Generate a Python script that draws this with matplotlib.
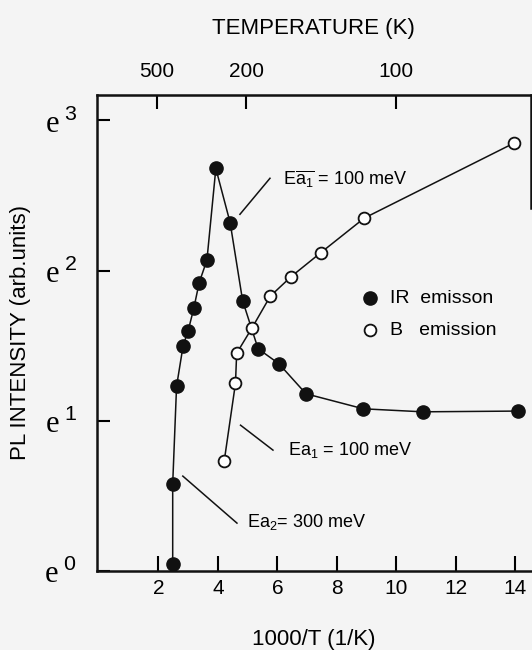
import numpy as np
import matplotlib.pyplot as plt

plt.rcParams['font.family'] = ['Liberation Sans', 'DejaVu Sans']
plt.rcParams['mathtext.fontset'] = 'custom'
plt.rcParams['mathtext.rm'] = 'Liberation Sans'
plt.rcParams['mathtext.it'] = 'Liberation Sans'

# IR emission (filled), x = 1000/T, y = ln(PL intensity)
ir_x = [2.48, 2.48, 2.61, 2.83, 3.00, 3.19, 3.37, 3.63, 3.93, 4.41, 4.83,
        5.35, 6.05, 6.96, 8.89, 10.88, 14.10]
ir_y = [0.05, 0.58, 1.23, 1.50, 1.60, 1.75, 1.92, 2.07, 2.68, 2.32, 1.80,
        1.48, 1.38, 1.18, 1.08, 1.06, 1.065]

# B emission (open)
b_x = [4.21, 4.59, 4.63, 5.15, 5.76, 6.46, 7.46, 8.92, 13.96]
b_y = [0.73, 1.25, 1.45, 1.62, 1.83, 1.96, 2.12, 2.35, 2.85]

xticks = [2, 4, 6, 8, 10, 12, 14]
yticks = [0, 1, 2, 3]
temp_ticks = [500, 200, 100]

bg = '#f4f4f4'
fig = plt.figure(figsize=(5.32, 6.5), dpi=100, facecolor=bg)
ax = fig.add_axes([0.182, 0.1215, 0.816, 0.7325], facecolor=bg)

ax.plot(ir_x, ir_y, '-', color='#111111', lw=1.1, zorder=2)
ax.plot(ir_x, ir_y, 'o', color='#111111', ms=9.5, zorder=3)
ax.plot(b_x, b_y, '-', color='#111111', lw=1.1, zorder=2)
ax.plot(b_x, b_y, 'o', mfc='white', mec='#111111', mew=1.3, ms=8.5, zorder=3)

ax.set_xlim(-0.07, 14.52)
ax.set_ylim(0, 3.17)

ax.set_xticks(xticks)
ax.set_xticklabels([str(v) for v in xticks], fontsize=15)
ax.set_yticks(yticks)
ax.set_yticklabels([r'$\mathregular{e}^{\ %d}$' % v for v in yticks])
for lab in ax.get_yticklabels():
    lab.set_fontfamily(['Liberation Serif', 'DejaVu Serif'])
    lab.set_fontsize(22)
ax.tick_params(axis='x', direction='in', length=11, width=1.5, pad=6)
ax.tick_params(axis='y', direction='in', length=9, width=1.5, pad=14)

for s in ax.spines.values():
    s.set_linewidth(1.8)
    s.set_color('#111111')
ax.spines['right'].set_bounds(2.42, 3.17)

top = ax.secondary_xaxis('top', functions=(lambda x: 1000.0 / np.maximum(x, 1e-3),
                                            lambda t: 1000.0 / np.maximum(t, 1e-3)))
top.set_xticks(temp_ticks)
top.set_xticklabels([str(v) for v in temp_ticks], fontsize=15)
top.tick_params(direction='in', length=10, width=1.5, pad=10)
top.set_xlabel('TEMPERATURE (K)', fontsize=16, labelpad=20)

ax.set_xlabel('1000/T (1/K)', fontsize=16, labelpad=22)
ax.set_ylabel('PL INTENSITY (arb.units)', fontsize=16, labelpad=10)

# annotations
ax.plot([5.75, 4.74], [2.615, 2.375], color='#111111', lw=1.1)
ax.text(6.18, 2.615, r'E$\overline{\mathregular{a}_1}$ = 100 meV', fontsize=13, va='center')
ax.plot([4.76, 5.85], [0.971, 0.805], color='#111111', lw=1.1)
ax.text(6.35, 0.805, r'Ea$_1$ = 100 meV', fontsize=13, va='center')
ax.plot([2.82, 4.64], [0.632, 0.319], color='#111111', lw=1.1)
ax.text(4.97, 0.326, r'Ea$_2$= 300 meV', fontsize=13, va='center')

# legend
ax.plot([9.11], [1.816], 'o', color='#111111', ms=9.5)
ax.text(9.78, 1.816, 'IR  emisson', fontsize=14, va='center')
ax.plot([9.11], [1.603], 'o', mfc='white', mec='#111111', mew=1.3, ms=8.5)
ax.text(9.78, 1.603, 'B   emission', fontsize=14, va='center')

fig.savefig('out.png', dpi=100, facecolor=bg)
